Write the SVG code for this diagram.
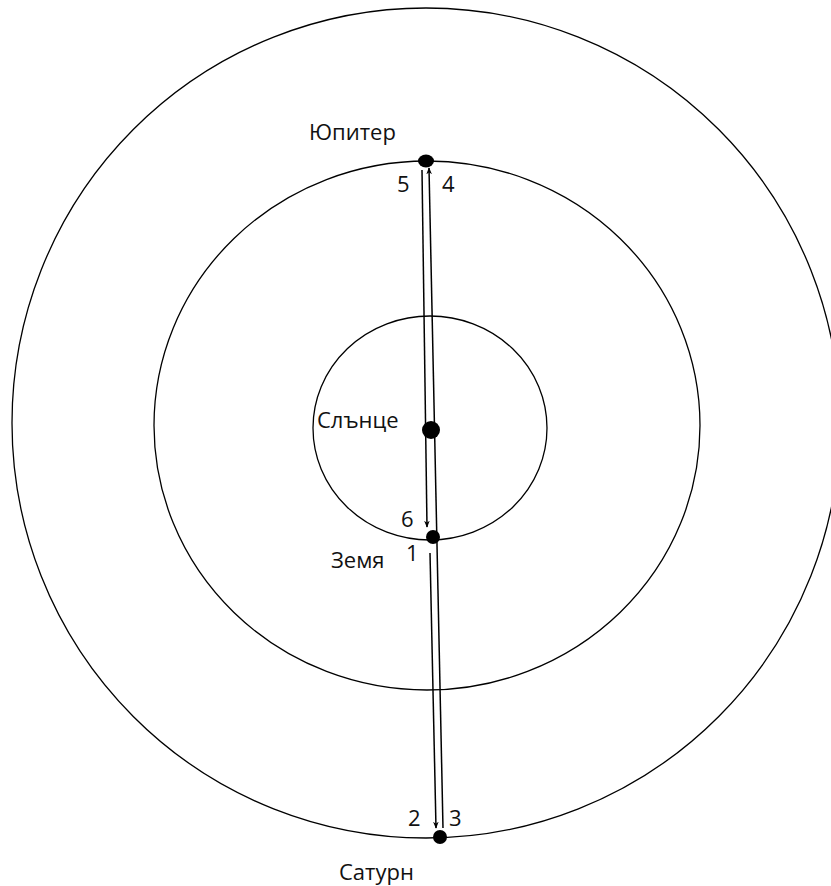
<svg xmlns="http://www.w3.org/2000/svg" width="831" height="886" viewBox="0 0 831 886">
<defs>
<style>
.orbit{fill:none;stroke:#000;stroke-width:1.3}
.body{fill:#000}
.lbl{font-family:"Open Sans","Noto Sans","Liberation Sans",sans-serif;font-size:22px;fill:#111}
.path{fill:none;stroke:#000;stroke-width:1.5}
</style>
<marker id="arr" viewBox="0 0 10 10" refX="9" refY="5" markerWidth="7" markerHeight="7" orient="auto" markerUnits="userSpaceOnUse">
<path d="M0,1 L10,5 L0,9 L3,5 Z" fill="#000"/>
</marker>
</defs>
<rect width="831" height="886" fill="#fff"/>
<g id="orbits">
<ellipse id="outer" class="orbit" cx="426" cy="423" rx="414" ry="415"/>
<ellipse id="middle" class="orbit" cx="427" cy="425.5" rx="273" ry="264.5"/>
<ellipse id="inner" class="orbit" cx="430" cy="428" rx="117" ry="112"/>
</g>
<g id="connectors">
<line class="path" x1="430" y1="553" x2="436" y2="828" marker-end="url(#arr)"/>
<line class="path" x1="443" y1="828" x2="429" y2="168" marker-end="url(#arr)"/>
<line class="path" x1="422" y1="170" x2="427" y2="527" marker-end="url(#arr)"/>
</g>
<g id="sun"><circle class="body" cx="431" cy="430" r="9"/><text class="lbl" x="317" y="428">Слънце</text></g>
<g id="jupiter"><ellipse class="body" cx="426" cy="161" rx="8" ry="6.5"/><text class="lbl" x="309" y="140">Юпитер</text></g>
<g id="earth"><circle class="body" cx="433" cy="537" r="7"/><text class="lbl" x="331" y="568">Земя</text></g>
<g id="saturn"><circle class="body" cx="440" cy="837" r="7"/><text class="lbl" x="339" y="880">Сатурн</text></g>
<g id="labels">
<text class="lbl" x="397" y="192">5</text>
<text class="lbl" x="442" y="192">4</text>
<text class="lbl" x="401" y="527">6</text>
<text class="lbl" x="406" y="561">1</text>
<text class="lbl" x="408" y="826">2</text>
<text class="lbl" x="449" y="826">3</text>
</g>
</svg>
